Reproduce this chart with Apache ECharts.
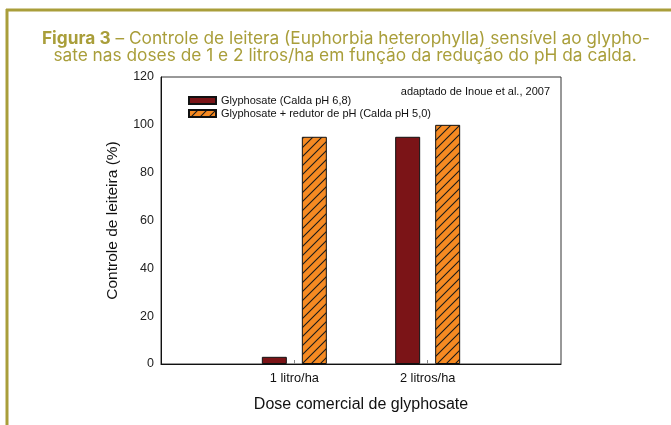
<!DOCTYPE html>
<html>
<head>
<meta charset="utf-8">
<script src="https://cdn.jsdelivr.net/npm/echarts@6/dist/echarts.min.js"></script>
<style>
  html, body { margin: 0; padding: 0; background: #fff; }
  #chart { width: 671px; height: 425px; }
</style>
</head>
<body>
<div id="chart"></div>
<script>
// dados do gráfico
const doses = ['', '1 litro/ha', '2 litros/ha', ''];
const seriesNames = ['Glyphosate (Calda pH 6,8)', 'Glyphosate + redutor de pH (Calda pH 5,0)'];
const controlePH68 = [null, 3, 95, null];
const controlePH50 = [null, 95, 100, null];
const yTicks = { min: 0, max: 120, interval: 20 };

const olive = '#a99e3a';
const font = '"Liberation Sans", Arial, sans-serif';
const titleFont = 'Inter';
const titleSize = 17.3;

// padrão hachurado (laranja com linhas diagonais)
function hatch() {
  const s = 9;
  const c = document.createElement('canvas');
  c.width = s; c.height = s;
  const ctx = c.getContext('2d');
  ctx.fillStyle = '#f68a22';
  ctx.fillRect(0, 0, s, s);
  ctx.strokeStyle = '#1a1a1a';
  ctx.lineWidth = 1.1;
  ctx.beginPath();
  ctx.moveTo(0, s); ctx.lineTo(s, 0);
  ctx.moveTo(-2, 2); ctx.lineTo(2, -2);
  ctx.moveTo(s - 2, s + 2); ctx.lineTo(s + 2, s - 2);
  ctx.stroke();
  return c;
}

const chart = echarts.init(document.getElementById('chart'), null, { renderer: 'canvas' });

chart.setOption({
  backgroundColor: '#fff',
  animation: false,
  title: [
    {
      text: '{b|Figura 3} – Controle de leitera (Euphorbia heterophylla) sensível ao glypho-',
      left: 341, top: 25, textAlign: 'center',
      textStyle: {
        fontFamily: titleFont, fontSize: titleSize, fontWeight: 'normal', color: olive,
        rich: { b: { fontFamily: titleFont, fontSize: titleSize, fontWeight: 'bold', color: olive } }
      }
    },
    {
      text: 'sate nas doses de 1 e 2 litros/ha em função da redução do pH da calda.',
      left: 340, top: 42, textAlign: 'center',
      textStyle: { fontFamily: titleFont, fontSize: titleSize, fontWeight: 'normal', color: olive }
    }
  ],
  graphic: [
    { type: 'line', shape: { x1: 6, y1: 10, x2: 671, y2: 10 }, style: { stroke: olive, lineWidth: 3 } },
    { type: 'line', shape: { x1: 7, y1: 9, x2: 7, y2: 425 }, style: { stroke: olive, lineWidth: 3 } },
    {
      type: 'text', x: 550, y: 92,
      style: {
        text: 'adaptado de Inoue et al., 2007', align: 'right', verticalAlign: 'middle',
        font: '11px "Liberation Sans", Arial, sans-serif', fill: '#111'
      }
    }
  ],
  legend: {
    orient: 'vertical',
    left: 183, top: 89,
    itemWidth: 27, itemHeight: 7, itemGap: 0,
    icon: 'rect',
    textStyle: { fontFamily: font, fontSize: 11, color: '#111', lineHeight: 13 },
    data: seriesNames
  },
  grid: {
    left: 161, right: 110, top: 77, bottom: 61,
    show: true, borderColor: '#333', borderWidth: 1, backgroundColor: 'transparent'
  },
  xAxis: {
    type: 'category',
    data: doses,
    boundaryGap: false,
    name: 'Dose comercial de glyphosate',
    nameLocation: 'middle',
    nameGap: 33,
    nameTextStyle: { fontFamily: font, fontSize: 16, color: '#111' },
    axisLine: { lineStyle: { color: '#111', width: 1 } },
    axisTick: {
      show: true, inside: true, length: 4,
      interval: (i) => i === 1 || i === 2,
      lineStyle: { color: '#888' }
    },
    axisLabel: { fontFamily: font, fontSize: 12.8, color: '#111', margin: 8, interval: 0 },
    splitLine: { show: false }
  },
  yAxis: {
    type: 'value',
    min: yTicks.min, max: yTicks.max, interval: yTicks.interval,
    name: 'Controle de leiteira (%)',
    nameLocation: 'middle',
    nameGap: 40,
    nameTextStyle: { fontFamily: font, fontSize: 15.5, color: '#111' },
    axisLine: { show: true, lineStyle: { color: '#111', width: 1 } },
    axisTick: { show: false },
    axisLabel: { fontFamily: font, fontSize: 12.5, color: '#222', margin: 7 },
    splitLine: { show: false }
  },
  series: [
    {
      name: seriesNames[0],
      type: 'bar',
      data: controlePH68,
      barWidth: 25,
      barGap: '60%',
      itemStyle: { color: '#7b1417', borderColor: '#111', borderWidth: 1 }
    },
    {
      name: seriesNames[1],
      type: 'bar',
      data: controlePH50,
      barWidth: 25,
      barGap: '60%',
      itemStyle: {
        color: { image: hatch(), repeat: 'repeat' },
        borderColor: '#111', borderWidth: 1
      }
    }
  ]
});
</script>
</body>
</html>
